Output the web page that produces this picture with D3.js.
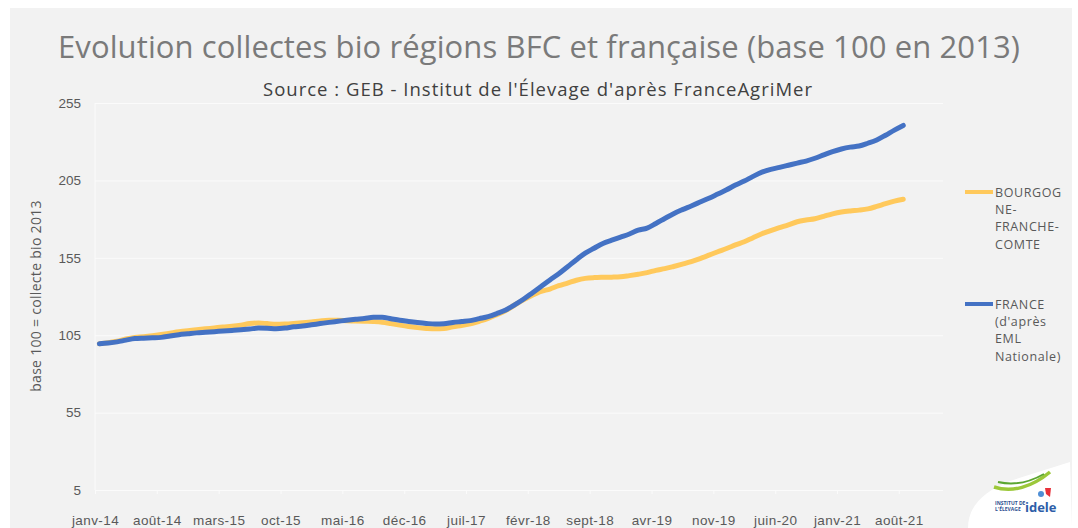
<!DOCTYPE html>
<html>
<head>
<meta charset="utf-8">
<script src="https://cdn.jsdelivr.net/npm/d3@7"></script>
<style>
  body { margin: 0; background: #fff; }
  svg { display: block; font-family: "Open Sans", sans-serif; }
</style>
</head>
<body>
<svg id="chart" width="1078" height="528"></svg>
<script>
// month names and years for the category axis
var monthNames = ["janv", "févr", "mars", "avr", "mai", "juin", "juil", "août", "sept", "oct", "nov", "déc"];
var years = ["14", "15", "16", "17", "18", "19", "20", "21"];

// tick labels shown every 7 months
var tickLabels = ["janv-14", "août-14", "mars-15", "oct-15", "mai-16", "déc-16", "juil-17",
  "févr-18", "sept-18", "avr-19", "nov-19", "juin-20", "janv-21", "août-21"];

// base 100 = collecte bio 2013, monthly from janv-14 to août-21
var bfc = [99.5, 100.2, 101.1, 102.6, 103.6, 104.0, 104.6, 105.4, 106.3, 107.2, 107.9, 108.5,
  109.1, 109.7, 110.3, 110.8, 111.5, 112.5, 112.9, 112.5, 112.0, 112.2, 112.6, 113.1,
  113.6, 114.2, 114.6, 114.6, 114.3, 114.2, 114.0, 113.8, 113.4, 112.5, 111.5, 110.6,
  109.9, 109.4, 109.1, 109.3, 110.4, 111.3, 112.3, 114.0, 115.9, 118.3, 120.9, 124.5,
  127.8, 130.8, 133.3, 134.8, 137.0, 138.7, 140.5, 141.7, 142.2, 142.4, 142.5, 142.7,
  143.5, 144.4, 145.4, 146.9, 148.0, 149.4, 150.9, 152.5, 154.5, 156.7, 158.9, 161.0,
  163.3, 165.4, 168.0, 170.5, 172.6, 174.5, 176.3, 178.3, 179.4, 180.2, 181.8, 183.4,
  184.6, 185.3, 185.8, 186.6, 188.2, 190.0, 191.6, 192.8];

var france = [99.5, 100.0, 100.7, 101.8, 102.8, 103.1, 103.3, 103.6, 104.5, 105.3, 105.9, 106.5,
  106.9, 107.3, 107.7, 108.1, 108.5, 109.0, 109.6, 109.5, 109.2, 109.6, 110.4, 110.9,
  111.7, 112.5, 113.3, 114.0, 114.7, 115.3, 115.8, 116.6, 116.6, 115.6, 114.6, 113.9,
  113.2, 112.6, 112.2, 112.4, 113.2, 113.8, 114.4, 115.7, 117.0, 119.0, 121.3, 124.6,
  128.2, 132.3, 136.5, 140.7, 144.7, 149.2, 153.8, 158.0, 161.2, 164.3, 166.4, 168.4,
  170.4, 172.8, 174.2, 177.2, 180.4, 183.5, 186.1, 188.5, 191.0, 193.5, 196.2, 198.9,
  202.0, 204.6, 207.6, 210.3, 212.1, 213.4, 214.8, 216.2, 217.5, 219.3, 221.5, 223.6,
  225.3, 226.5, 227.2, 229.0, 231.1, 234.2, 237.5, 240.5];

var yTicks = [5, 55, 105, 155, 205, 255];

// series names and colours
var seriesNames = [["BOURGOG", "NE-", "FRANCHE-", "COMTE"], ["FRANCE", "(d'après", "EML", "Nationale)"]];
var seriesColors = ["#ffc95c", "#4472c4"];

// all months on the category axis (janv-14 .. déc-21)
var categories = [];
years.forEach(function(y) {
  monthNames.forEach(function(m) { categories.push(m + "-" + y); });
});

// plot area
var plot = {left: 95, right: 943, top: 103, bottom: 490};

var svg = d3.select("#chart");

// grey panel
svg.append("rect")
  .attr("x", 10).attr("y", 8)
  .attr("width", 1062).attr("height", 520)
  .attr("fill", "#f2f2f2");

var xScale = d3.scaleBand()
  .domain(d3.range(categories.length))
  .range([plot.left, plot.right]);

// boundaries between categories, used for ticks and labels
var xEdge = d3.scaleLinear()
  .domain([0, categories.length])
  .range([plot.left, plot.right]);

var yScale = d3.scaleLinear()
  .domain([5, 255])
  .range([plot.bottom, plot.top]);

// y axis with gridlines
var yAxis = svg.append("g")
  .attr("class", "y axis")
  .attr("transform", "translate(" + plot.left + ",0)")
  .call(d3.axisLeft(yScale)
    .tickValues(yTicks)
    .tickSize(-(plot.right - plot.left))
    .tickPadding(14));
yAxis.select(".domain").remove();
yAxis.selectAll("line").attr("stroke", "#fbfbfb").attr("stroke-width", 1);
yAxis.selectAll("text")
  .attr("fill", "#595959")
  .attr("font-size", 13.5);

// left vertical axis line
svg.append("line")
  .attr("x1", plot.left).attr("x2", plot.left)
  .attr("y1", plot.top).attr("y2", plot.bottom)
  .attr("stroke", "#fbfbfb");

// x axis
var tickIdx = tickLabels.map(function(d) { return categories.indexOf(d); });
var xAxis = svg.append("g")
  .attr("class", "x axis")
  .attr("transform", "translate(0," + plot.bottom + ")")
  .call(d3.axisBottom(xEdge)
    .tickValues(tickIdx)
    .tickFormat(function(i) { return categories[i]; })
    .tickSize(4)
    .tickPadding(21));
xAxis.select(".domain").remove();
xAxis.selectAll("line").attr("stroke", "#fbfbfb");
xAxis.selectAll("text")
  .attr("fill", "#595959")
  .attr("font-size", 13.5)
  .attr("letter-spacing", 0.4);

// axis title
svg.append("text")
  .attr("transform", "translate(41,296) rotate(-90)")
  .attr("text-anchor", "middle")
  .attr("fill", "#595959")
  .attr("font-size", 14)
  .attr("letter-spacing", 0.3)
  .text("base 100 = collecte bio 2013");

// lines
var line = d3.line()
  .x(function(d, i) { return xScale(i) + xScale.bandwidth() / 2; })
  .y(function(d) { return yScale(d); })
  .curve(d3.curveMonotoneX);

[bfc, france].forEach(function(s, k) {
  svg.append("path")
    .datum(s)
    .attr("fill", "none")
    .attr("stroke", seriesColors[k])
    .attr("stroke-width", 5)
    .attr("stroke-linecap", "round")
    .attr("stroke-linejoin", "round")
    .attr("d", line);
});

// legend
var legendY = [192, 304];
seriesNames.forEach(function(lines, k) {
  var g = svg.append("g").attr("transform", "translate(965," + legendY[k] + ")");
  g.append("line")
    .attr("x1", 0).attr("x2", 28)
    .attr("stroke", seriesColors[k])
    .attr("stroke-width", 4);
  g.append("text")
    .attr("x", 30).attr("y", 5)
    .attr("fill", "#595959")
    .attr("font-size", 12.5)
    .attr("letter-spacing", 0.6)
    .selectAll("tspan")
    .data(lines)
  .enter().append("tspan")
    .attr("x", 30)
    .attr("dy", function(d, i) { return i ? 17.2 : 0; })
    .text(function(d) { return d; });
});

// titles (Century Gothic in the original is wider, so stretch to the same width)
svg.append("text")
  .attr("x", 58).attr("y", 58)
  .attr("fill", "#7a7a7a")
  .attr("font-size", 31)
  .attr("textLength", 962)
  .attr("lengthAdjust", "spacing")
  .text("Evolution collectes bio régions BFC et française (base 100 en 2013)");

svg.append("text")
  .attr("x", 263).attr("y", 96)
  .attr("fill", "#404040")
  .attr("font-size", 18.5)
  .attr("textLength", 549)
  .attr("lengthAdjust", "spacing")
  .text("Source : GEB - Institut de l'Élevage d'après FranceAgriMer");

// logo corner
var logo = svg.append("g");
logo.append("path")
  .attr("d", "M968,528 C968,506 984,491 1010,481 L1070,462 L1072,528 Z")
  .attr("fill", "#ffffff");
logo.append("path")
  .attr("d", "M994,487 C1012,493 1032,487 1050,472")
  .attr("fill", "none").attr("stroke", "#9cc83a").attr("stroke-width", 3.5);
logo.append("path")
  .attr("d", "M998,482 C1015,486 1030,482 1044,474")
  .attr("fill", "none").attr("stroke", "#5ba631").attr("stroke-width", 2);
logo.append("circle").attr("cx", 1041).attr("cy", 494).attr("r", 3).attr("fill", "#4f8fd6");
logo.append("path")
  .attr("d", "M1045,488 L1051,488 L1050,497 L1046,494 Z")
  .attr("fill", "#e8313a");
logo.append("text")
  .attr("x", 995).attr("y", 505)
  .attr("font-size", 5).attr("font-weight", "bold").attr("fill", "#2e4f8f")
  .text("INSTITUT DE");
logo.append("text")
  .attr("x", 995).attr("y", 511)
  .attr("font-size", 5).attr("font-weight", "bold").attr("fill", "#2e4f8f")
  .text("L'ÉLEVAGE");
logo.append("text")
  .attr("x", 1025).attr("y", 512)
  .attr("font-size", 13).attr("font-weight", "bold").attr("fill", "#2e5ea8")
  .text("idele");
</script>
</body>
</html>
